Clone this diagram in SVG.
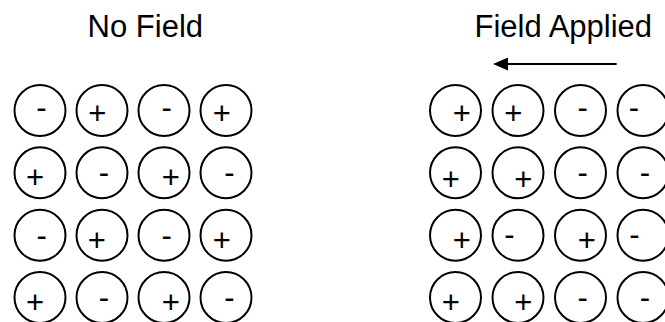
<svg xmlns="http://www.w3.org/2000/svg" width="665" height="322" viewBox="0 0 665 322">
<style>
.c{fill:none;stroke:#000;stroke-width:2}
text{font-family:"Liberation Sans",Arial,sans-serif;fill:#000}
.t{font-size:31px;text-anchor:middle}
.s{font-size:31px;text-anchor:middle}
</style>
<defs>
<marker id="ah" markerWidth="15" markerHeight="13" refX="2" refY="6.5" orient="auto" markerUnits="userSpaceOnUse" viewBox="0 0 15 13">
<polygon points="0,0 15,6.5 0,13" fill="#000"/>
</marker>
</defs>
<rect width="665" height="322" fill="#fff"/>
<g id="title-left"><text class="t" x="145.3" y="36.7">No Field</text></g>
<g id="title-right"><text class="t" x="563.3" y="36.7">Field Applied</text></g>
<g id="connectors">
<line x1="616.7" y1="64" x2="506" y2="64" stroke="#000" stroke-width="2" marker-end="url(#ah)"/>
</g>
<g id="left-grid">
<g id="L11"><circle class="c" cx="40" cy="110.5" r="25.5"/><text class="s" x="41.5" y="118.3">-</text></g>
<g id="L12"><circle class="c" cx="102" cy="110.5" r="25.5"/><text class="s" x="97.3" y="123.5">+</text></g>
<g id="L13"><circle class="c" cx="164" cy="110.5" r="25.5"/><text class="s" x="166.7" y="118.3">-</text></g>
<g id="L14"><circle class="c" cx="226" cy="110.5" r="25.5"/><text class="s" x="221.7" y="123.5">+</text></g>
<g id="L21"><circle class="c" cx="40" cy="172.8" r="25.5"/><text class="s" x="35" y="188">+</text></g>
<g id="L22"><circle class="c" cx="102" cy="172.8" r="25.5"/><text class="s" x="104" y="183.3">-</text></g>
<g id="L23"><circle class="c" cx="164" cy="172.8" r="25.5"/><text class="s" x="170.7" y="188">+</text></g>
<g id="L24"><circle class="c" cx="226" cy="172.8" r="25.5"/><text class="s" x="229.3" y="183.3">-</text></g>
<g id="L31"><circle class="c" cx="40" cy="235.2" r="25.5"/><text class="s" x="41.7" y="245.6">-</text></g>
<g id="L32"><circle class="c" cx="102" cy="235.2" r="25.5"/><text class="s" x="96.7" y="251.2">+</text></g>
<g id="L33"><circle class="c" cx="164" cy="235.2" r="25.5"/><text class="s" x="166.7" y="245.6">-</text></g>
<g id="L34"><circle class="c" cx="226" cy="235.2" r="25.5"/><text class="s" x="221.7" y="251.2">+</text></g>
<g id="L41"><circle class="c" cx="40" cy="297.5" r="25.5"/><text class="s" x="35" y="312.9">+</text></g>
<g id="L42"><circle class="c" cx="102" cy="297.5" r="25.5"/><text class="s" x="104" y="307.6">-</text></g>
<g id="L43"><circle class="c" cx="164" cy="297.5" r="25.5"/><text class="s" x="170.7" y="312.9">+</text></g>
<g id="L44"><circle class="c" cx="226" cy="297.5" r="25.5"/><text class="s" x="229.3" y="307.6">-</text></g>
</g>
<g id="right-grid">
<g id="R11"><circle class="c" cx="455.5" cy="110.5" r="25.5"/><text class="s" x="461.7" y="123.5">+</text></g>
<g id="R12"><circle class="c" cx="518" cy="110.5" r="25.5"/><text class="s" x="513.3" y="123.5">+</text></g>
<g id="R13"><circle class="c" cx="580.5" cy="110.5" r="25.5"/><text class="s" x="582.7" y="118.3">-</text></g>
<g id="R14"><circle class="c" cx="643" cy="110.5" r="25.5"/><text class="s" x="634" y="118.3">-</text></g>
<g id="R21"><circle class="c" cx="455.5" cy="172.8" r="25.5"/><text class="s" x="450.7" y="189.5">+</text></g>
<g id="R22"><circle class="c" cx="518" cy="172.8" r="25.5"/><text class="s" x="523.3" y="189.5">+</text></g>
<g id="R23"><circle class="c" cx="580.5" cy="172.8" r="25.5"/><text class="s" x="582.7" y="183.3">-</text></g>
<g id="R24"><circle class="c" cx="643" cy="172.8" r="25.5"/><text class="s" x="645" y="183.3">-</text></g>
<g id="R31"><circle class="c" cx="455.5" cy="235.2" r="25.5"/><text class="s" x="461.7" y="250.5">+</text></g>
<g id="R32"><circle class="c" cx="518" cy="235.2" r="25.5"/><text class="s" x="509.3" y="245">-</text></g>
<g id="R33"><circle class="c" cx="580.5" cy="235.2" r="25.5"/><text class="s" x="586.7" y="250.5">+</text></g>
<g id="R34"><circle class="c" cx="643" cy="235.2" r="25.5"/><text class="s" x="634.3" y="245">-</text></g>
<g id="R41"><circle class="c" cx="455.5" cy="297.5" r="25.5"/><text class="s" x="450.7" y="312.9">+</text></g>
<g id="R42"><circle class="c" cx="518" cy="297.5" r="25.5"/><text class="s" x="523.3" y="312.9">+</text></g>
<g id="R43"><circle class="c" cx="580.5" cy="297.5" r="25.5"/><text class="s" x="582.7" y="307.6">-</text></g>
<g id="R44"><circle class="c" cx="643" cy="297.5" r="25.5"/><text class="s" x="645" y="307.6">-</text></g>
</g>
</svg>
